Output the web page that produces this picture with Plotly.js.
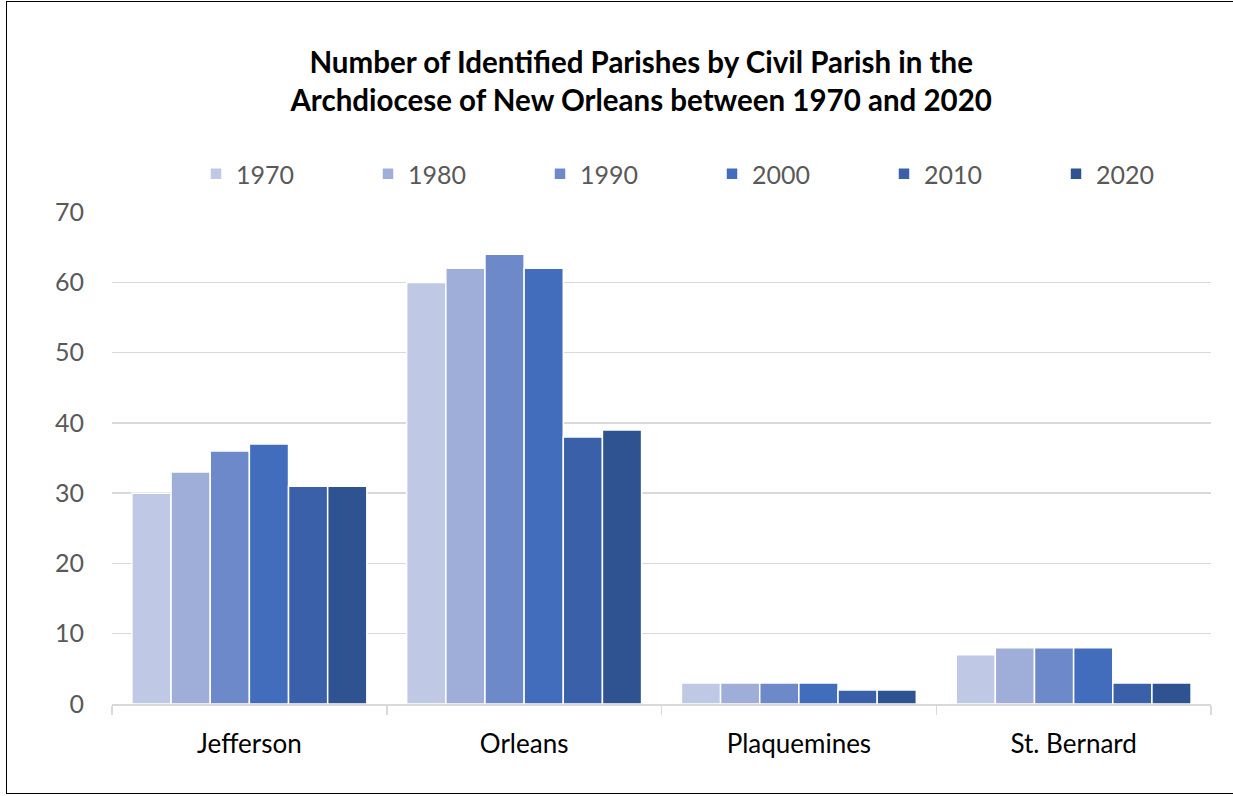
<!DOCTYPE html>
<html>
<head>
<meta charset="utf-8">
<script src="https://cdn.plot.ly/plotly-3.0.1.min.js"></script>
<style>
  html, body { margin: 0; padding: 0; background: #fff; }
  #wrap { position: relative; width: 1233px; height: 796px; overflow: hidden; }
  #chart { width: 1233px; height: 796px; }
  #frame { position: absolute; left: 6px; top: 1px; width: 1240px; height: 793px; border: 1.5px solid #000; box-sizing: border-box; pointer-events: none; }
</style>
</head>
<body>
<div id="wrap">
  <div id="chart"></div>
  <div id="frame"></div>
</div>
<script>
const categories = ["Jefferson", "Orleans", "Plaquemines", "St. Bernard"];
const years = ["1970", "1980", "1990", "2000", "2010", "2020"];
const v1970 = [30, 60, 3, 7];
const v1980 = [33, 62, 3, 8];
const v1990 = [36, 64, 3, 8];
const v2000 = [37, 62, 3, 8];
const v2010 = [31, 38, 2, 3];
const v2020 = [31, 39, 2, 3];
const yTicks = [0, 10, 20, 30, 40, 50, 60, 70];

const seriesValues = [v1970, v1980, v1990, v2000, v2010, v2020];
const colors = ["#BFC9E5", "#9FAED8", "#6E89CA", "#416DBC", "#3960A8", "#2F5290"];
const font = "Lato, Carlito, 'Open Sans', sans-serif";

const traces = years.map((y, i) => ({
  type: "bar",
  name: y,
  x: categories,
  y: seriesValues[i],
  marker: { color: colors[i], line: { color: "#ffffff", width: 1.5 } }
}));

const layout = {
  width: 1233,
  height: 796,
  margin: { l: 112, r: 22, t: 212, b: 92 },
  paper_bgcolor: "#ffffff",
  plot_bgcolor: "#ffffff",
  font: { family: font, color: "#595959", size: 20 },
  title: {
    text: "<b>Number of Identified Parishes by Civil Parish in the<br>Archdiocese of New Orleans between 1970 and 2020</b>",
    font: { family: font, size: 29.5, color: "#000000" },
    x: 0.52, xanchor: "center",
    xref: "container", yref: "container",
    y: 1 - 73 / 796, yanchor: "top"
  },
  barmode: "group",
  bargap: 0.145,
  bargroupgap: 0,
  showlegend: true,
  legend: {
    orientation: "h",
    xref: "container", yref: "container",
    x: 196 / 1233, xanchor: "left",
    y: 1 - 174 / 796, yanchor: "middle",
    entrywidth: 127,
    entrywidthmode: "pixels",
    itemwidth: 30,
    font: { family: font, size: 25, color: "#595959" },
    traceorder: "normal"
  },
  xaxis: {
    type: "category",
    showgrid: false,
    showline: true,
    linecolor: "#D9D9D9",
    linewidth: 1.5,
    ticks: "outside",
    tickson: "boundaries",
    ticklen: 9,
    tickcolor: "#D9D9D9",
    tickwidth: 1.5,
    tickfont: { family: font, size: 26, color: "#000000" },
    ticklabelstandoff: 16,
    fixedrange: true
  },
  yaxis: {
    range: [0, 70.02],
    tickvals: yTicks,
    ticktext: yTicks.map(String),
    showgrid: true,
    gridcolor: "#D9D9D9",
    gridwidth: 1.5,
    zeroline: false,
    showline: false,
    ticks: "",
    ticklabelstandoff: 27,
    tickfont: { family: font, size: 25, color: "#595959" },
    fixedrange: true
  }
};

Plotly.newPlot("chart", traces, layout, { staticPlot: true, displayModeBar: false });
</script>
</body>
</html>
